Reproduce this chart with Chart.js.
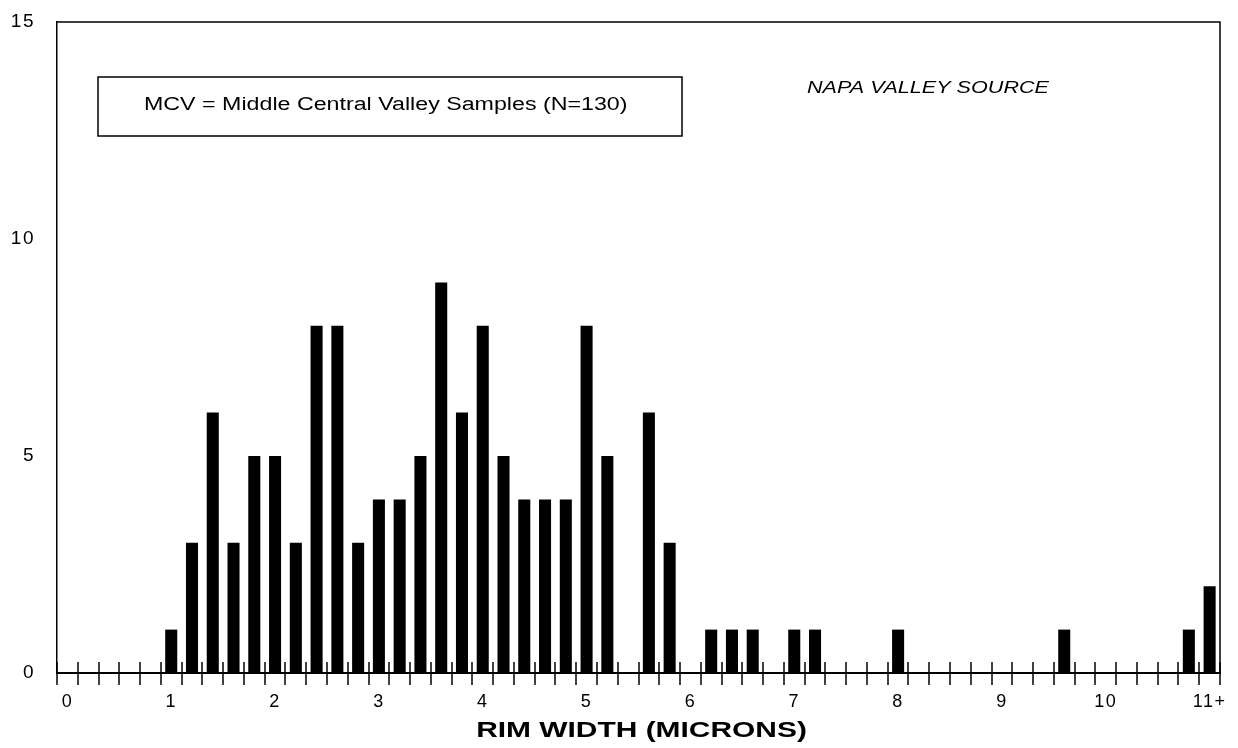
<!DOCTYPE html>
<html>
<head>
<meta charset="utf-8">
<script src="https://cdn.jsdelivr.net/npm/chart.js@4.4.1/dist/chart.umd.min.js"></script>
<style>
html,body{margin:0;padding:0;background:#fff;overflow:hidden}
#wrap{width:1238px;height:748px;position:relative}
</style>
</head>
<body>
<div id="wrap"><canvas id="c" width="1238" height="748"></canvas></div>
<script>
// Rim width bins (microns), 0.2 µm steps; last bin is 11+
const binLabels = [
  "0.0","0.2","0.4","0.6","0.8",
  "1.0","1.2","1.4","1.6","1.8",
  "2.0","2.2","2.4","2.6","2.8",
  "3.0","3.2","3.4","3.6","3.8",
  "4.0","4.2","4.4","4.6","4.8",
  "5.0","5.2","5.4","5.6","5.8",
  "6.0","6.2","6.4","6.6","6.8",
  "7.0","7.2","7.4","7.6","7.8",
  "8.0","8.2","8.4","8.6","8.8",
  "9.0","9.2","9.4","9.6","9.8",
  "10.0","10.2","10.4","10.6","10.8",
  "11+"
];
// Number of samples per bin (N = 130)
const counts = [
  0,0,0,0,0,
  1,3,6,3,5,
  5,3,8,8,3,
  4,4,5,9,6,
  8,5,4,4,4,
  8,5,0,6,3,
  0,1,1,1,0,
  1,1,0,0,0,
  1,0,0,0,0,
  0,0,0,1,0,
  0,0,0,0,1,
  2
];
// Tick labels shown under the x axis
const xTickLabels = [
  "0","","","","",
  "1","","","","",
  "2","","","","",
  "3","","","","",
  "4","","","","",
  "5","","","","",
  "6","","","","",
  "7","","","","",
  "8","","","","",
  "9","","","","",
  "10","","","","",
  "11+"
];
const yTickValues = [0, 5, 10, 15];
const legendText = "MCV = Middle Central Valley Samples (N=130)";
const sourceText = "NAPA VALLEY SOURCE";
const xTitle = "RIM WIDTH (MICRONS)";

const FONT = "'Liberation Sans', Arial, Helvetica, sans-serif";

function stretchText(ctx, txt, x, y, sx, font, align) {
  ctx.save();
  ctx.font = font;
  ctx.textAlign = align;
  ctx.textBaseline = 'alphabetic';
  ctx.fillStyle = '#000';
  ctx.translate(x, y);
  ctx.scale(sx, 1);
  ctx.fillText(txt, 0, 0);
  ctx.restore();
}

const decor = {
  id: 'decor',
  beforeDraw(chart) {
    try { chart.ctx.letterSpacing = '1.5px'; } catch (e) {}
  },
  afterDraw(chart) {
    const ctx = chart.ctx;
    const a = chart.chartArea;
    const xs = chart.scales.x;
    ctx.save();
    try { ctx.letterSpacing = '0px'; } catch (e) {}
    ctx.strokeStyle = '#000';
    // top and right frame
    ctx.lineWidth = 1.5;
    ctx.beginPath();
    ctx.moveTo(a.left, a.top);
    ctx.lineTo(a.right, a.top);
    ctx.lineTo(a.right, a.bottom);
    ctx.stroke();
    // tick marks at bin boundaries, crossing the axis
    ctx.lineWidth = 1.5;
    for (let i = 0; i <= binLabels.length; i++) {
      const px = Math.round(xs.getPixelForValue(i - 0.5));
      ctx.beginPath();
      ctx.moveTo(px, a.bottom - 11);
      ctx.lineTo(px, a.bottom + 12);
      ctx.stroke();
    }
    // legend box
    ctx.lineWidth = 1.5;
    ctx.strokeRect(98, 77, 584, 59);
    stretchText(ctx, legendText, 144, 110, 1.29, "18px " + FONT, 'left');
    // source note
    stretchText(ctx, sourceText, 807, 93, 1.27, "italic 17px " + FONT, 'left');
    // x axis title
    const cx = (a.left + a.right) / 2 + 3;
    stretchText(ctx, xTitle, cx, 737, 1.36, "bold 22px " + FONT, 'center');
    ctx.restore();
  }
};

new Chart(document.getElementById('c'), {
  type: 'bar',
  data: {
    labels: binLabels,
    datasets: [{
      data: counts,
      backgroundColor: '#000',
      borderWidth: 0,
      barPercentage: 0.58,
      categoryPercentage: 1.0
    }]
  },
  options: {
    responsive: false,
    animation: false,
    devicePixelRatio: 1,
    layout: { padding: { top: 22, right: 18, left: 0, bottom: 0 } },
    plugins: { legend: { display: false }, tooltip: { enabled: false }, title: { display: false } },
    scales: {
      x: {
        type: 'category',
        offset: true,
        grid: { display: false, drawTicks: false },
        border: { display: true, color: '#000', width: 2 },
        ticks: {
          autoSkip: false,
          maxRotation: 0,
          minRotation: 0,
          padding: 18,
          color: '#000',
          font: { family: FONT, size: 18 },
          callback: (v, i) => xTickLabels[i]
        },
        afterFit: s => { s.height = 75; s.paddingLeft = 0; s.paddingRight = 0; }
      },
      y: {
        min: 0,
        max: 15,
        grid: { display: false, drawTicks: false },
        border: { display: true, color: '#000', width: 1.5 },
        ticks: {
          padding: 22,
          color: '#000',
          font: { family: FONT, size: 19 }
        },
        afterBuildTicks: s => { s.ticks = yTickValues.map(v => ({ value: v })); },
        afterFit: s => { s.width = 57; s.paddingTop = 0; s.paddingBottom = 0; }
      }
    }
  },
  plugins: [decor]
});
</script>
</body>
</html>
